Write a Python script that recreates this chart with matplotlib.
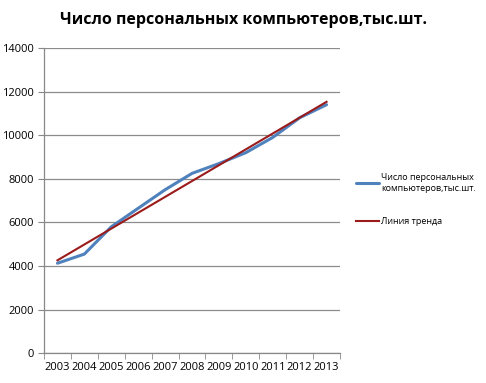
import numpy as np
import matplotlib
matplotlib.use("Agg")
import matplotlib.pyplot as plt

years = ["2003", "2004", "2005", "2006", "2007", "2008", "2009", "2010", "2011", "2012", "2013"]
pcs = [4130, 4550, 5800, 6650, 7500, 8250, 8700, 9200, 9900, 10800, 11400]
series_label = "Число персональных\nкомпьютеров,тыс.шт."
trend_label = "Линия тренда"
title = "Число персональных компьютеров,тыс.шт."

plt.rcParams['font.family'] = ['Open Sans', 'DejaVu Sans']

fig = plt.figure(figsize=(4.86, 3.83), dpi=100)
ax = fig.add_axes([44/486, 1 - 353.3/383, (340-44)/486, (353.3-48)/383])

x = np.arange(len(years))
coef = np.polyfit(x, pcs, 1)
trend = np.polyval(coef, x)

ax.plot(x, pcs, color='#4F81BD', lw=2.2, label=series_label, solid_capstyle='round', zorder=3)
ax.plot(x, trend, color='#9B1B1B', lw=1.5, label=trend_label, zorder=4)

ax.set_xlim(-0.5, len(years) - 0.5)
ax.set_ylim(0, 14000)
ax.set_yticks(np.arange(0, 14001, 2000))
ax.set_yticklabels([str(v) for v in range(0, 14001, 2000)], fontsize=8)
ax.set_xticks(x)
ax.set_xticklabels(years, fontsize=8)
ax.set_xticks(np.arange(-0.5, len(years), 1), minor=True)
ax.tick_params(axis='x', which='major', length=0, pad=6)
ax.tick_params(axis='x', which='minor', length=4, color='#888888')
ax.tick_params(axis='y', length=4, color='#888888', pad=3)
ax.grid(axis='y', color='#8c8c8c', lw=0.9)
ax.set_axisbelow(True)
for s in ['top', 'right']:
    ax.spines[s].set_visible(False)
for s in ['left', 'bottom']:
    ax.spines[s].set_color('#888888')
    ax.spines[s].set_linewidth(0.9)

fig.text(243/486, 1 - 20/383, title, ha='center', va='center', fontsize=11.5,
         fontweight='bold')

leg = fig.legend(loc='upper left', bbox_to_anchor=(348/486, 1 - 165/383), frameon=False,
                 fontsize=6.5, handlelength=2.55, handletextpad=0.2, labelspacing=2.7)

fig.savefig('out.png', dpi=100)
